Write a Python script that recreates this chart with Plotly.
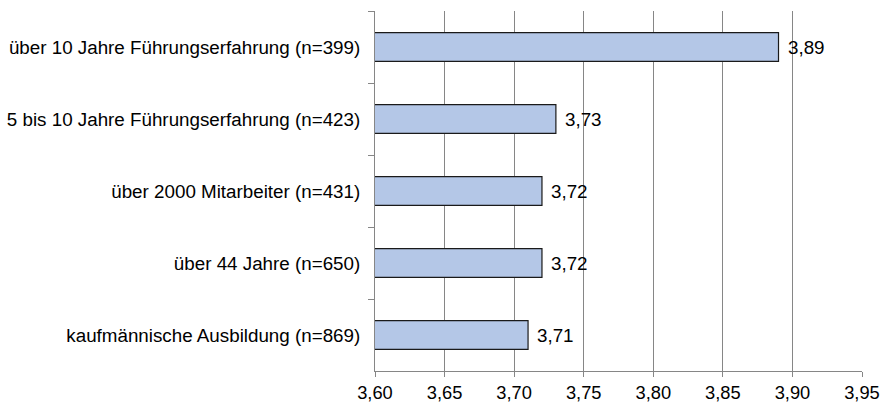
import plotly.graph_objects as go

# Groups (top to bottom) and their mean scores
categories = [
    "über 10 Jahre Führungserfahrung (n=399)",
    "5 bis 10 Jahre Führungserfahrung (n=423)",
    "über 2000 Mitarbeiter (n=431)",
    "über 44 Jahre (n=650)",
    "kaufmännische Ausbildung (n=869)",
]
values = [3.89, 3.73, 3.72, 3.72, 3.71]
x_ticks = [3.60, 3.65, 3.70, 3.75, 3.80, 3.85, 3.90, 3.95]

FONT = "Liberation Sans, Arial, sans-serif"
FS = 18.8
GRID = "#868686"

fig = go.Figure(
    go.Bar(
        x=values,
        y=categories,
        orientation="h",
        marker=dict(color="#B4C7E7", line=dict(color="#1a1a1a", width=1.2)),
        hoverinfo="skip",
    )
)

# value labels to the right of each bar
for cat, v in zip(categories, values):
    fig.add_annotation(
        x=v, y=cat, text=f"{v:.2f}".replace(".", ","),
        xanchor="left", yanchor="middle", xshift=7, showarrow=False,
        font=dict(family=FONT, size=FS, color="#000000"),
    )

fig.update_layout(
    width=887, height=403,
    margin=dict(l=375, r=25, t=11, b=32),
    paper_bgcolor="white", plot_bgcolor="white",
    separators=",.",
    bargap=0.6,
    showlegend=False,
    font=dict(family=FONT, size=FS, color="#000000"),
)
fig.update_xaxes(
    range=[3.60, 3.95],
    tickvals=x_ticks,
    tickformat=".2f",
    automargin=False,
    showgrid=True, gridcolor=GRID, gridwidth=1,
    showline=True, linecolor=GRID, linewidth=1,
    ticks="outside", ticklen=5, tickcolor=GRID,
    zeroline=False,
    tickfont=dict(family=FONT, size=18.3, color="#000000"),
)
fig.update_yaxes(
    categoryorder="array", categoryarray=categories,
    autorange="reversed",
    automargin=False,
    showgrid=False,
    showline=True, linecolor=GRID, linewidth=1,
    ticks="outside", ticklen=6, tickcolor=GRID, tickson="boundaries",
    ticklabelstandoff=10,
    tickfont=dict(family=FONT, size=FS, color="#000000"),
)

fig.write_html("out.html")
